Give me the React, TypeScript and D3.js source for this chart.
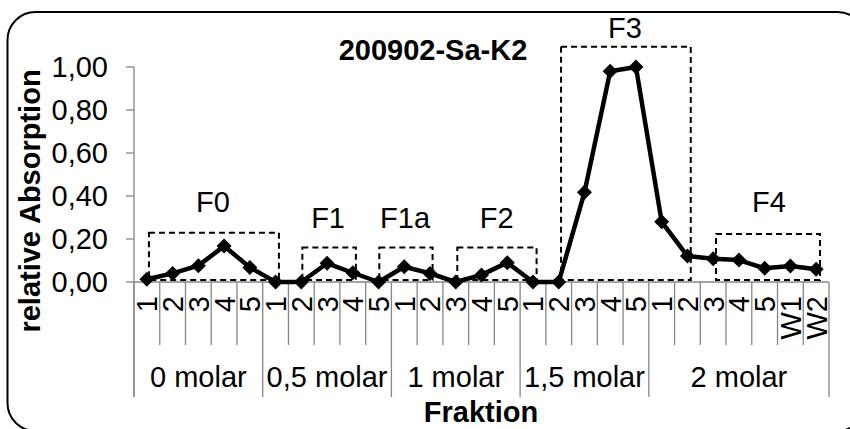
import React from "react";
import * as d3 from "d3";

const categories = ["1","2","3","4","5","1","2","3","4","5","1","2","3","4","5","1","2","3","4","5","1","2","3","4","5","W1","W2"];
const groups = ["0 molar", "0,5 molar", "1 molar", "1,5 molar", "2 molar"];
const groupSizes = [5, 5, 5, 5, 7];
const values = [
  0.013, 0.04, 0.076, 0.167, 0.068,
  0, 0, 0.087, 0.043, 0,
  0.071, 0.04, 0, 0.033, 0.09,
  0, 0, 0.417, 0.98, 1.0,
  0.28, 0.121, 0.108, 0.102, 0.064, 0.074, 0.059,
];
const yTicks = [0, 0.2, 0.4, 0.6, 0.8, 1.0];

// fraction annotation boxes (category units / value units)
const boxNames = ["F0", "F1", "F1a", "F2", "F3", "F4"];
const boxStart = [0.58, 6.54, 9.53, 12.56, 16.59, 22.61];
const boxEnd = [5.63, 8.62, 11.6, 15.64, 21.63, 26.65];
const boxTop = [0.229, 0.161, 0.161, 0.16, 1.094, 0.223];
const boxBottom = [0.009, 0.009, 0.009, 0.009, 0.009, 0.009];
const labelCenter = [3.07, 7.54, 10.53, 14.09, 19.07, 24.67];
const labelValue = [0.327, 0.253, 0.253, 0.253, 1.133, 0.327];

const title = "200902-Sa-K2";
const xTitle = "Fraktion";
const yTitle = "relative Absorption";

const W = 850;
const H = 429;
const FONT = "'Liberation Sans', Arial, Helvetica, sans-serif";
const AXIS = "#868686";

export default function App() {
  const x0 = 134, x1 = 829, yBase = 282, yTop = 67;
  const x = d3.scaleLinear().domain([0, categories.length]).range([x0, x1]);
  const y = d3.scaleLinear().domain([0, 1]).range([yBase, yTop]);
  const fmt = (v: number) => d3.format(".2f")(v).replace(".", ",");
  const line = d3.line<number>().x((_, i) => x(i + 0.5)).y((d) => y(d));

  const groupBounds: number[] = [0];
  groupSizes.forEach((s, i) => groupBounds.push(groupBounds[i] + s));

  const diamond = (cx: number, cy: number, r: number) =>
    `M${cx},${cy - r}L${cx + r},${cy}L${cx},${cy + r}L${cx - r},${cy}Z`;

  return (
    <svg width={W} height={H} style={{ position: "absolute", left: 0, top: 0, background: "#fff" }} fontFamily={FONT}>
      <rect x={7.5} y={12} width={858} height={419} rx={28} ry={28} fill="#fff" stroke="#000" strokeWidth={2} />

      {/* title */}
      <text x={433} y={60} textAnchor="middle" fontWeight="bold" fontSize={29}>{title}</text>

      {/* y axis */}
      <line x1={x0} x2={x0} y1={yTop} y2={397} stroke={AXIS} strokeWidth={1.3} />
      {yTicks.map((t) => (
        <g key={t}>
          <line x1={x0 - 8} x2={x0} y1={y(t)} y2={y(t)} stroke={AXIS} strokeWidth={1.3} />
          <text x={108} y={y(t)} dy="0.36em" textAnchor="end" fontSize={29}>{fmt(t)}</text>
        </g>
      ))}

      {/* x axis */}
      <line x1={x0} x2={x1} y1={yBase} y2={yBase} stroke={AXIS} strokeWidth={1.3} />
      {categories.map((c, i) =>
        i === 0 || groupBounds.includes(i) ? null : (
          <line key={"t" + i} x1={x(i)} x2={x(i)} y1={yBase} y2={345} stroke={AXIS} strokeWidth={1.3} />
        )
      )}
      {groupBounds.map((b, i) => (
        <line key={"g" + i} x1={x(b)} x2={x(b)} y1={yBase} y2={397} stroke={AXIS} strokeWidth={1.3} />
      ))}
      {categories.map((c, i) => (
        <text key={"c" + i} transform={`translate(${x(i + 0.5)},296) rotate(-90)`} dy="0.36em" textAnchor="end" fontSize={29}>{c}</text>
      ))}
      {groups.map((g, i) => (
        <text key={g} x={x((groupBounds[i] + groupBounds[i + 1]) / 2)} y={387} textAnchor="middle" fontSize={29}>{g}</text>
      ))}

      {/* axis titles */}
      <text x={481} y={422} textAnchor="middle" fontWeight="bold" fontSize={29}>{xTitle}</text>
      <text transform="translate(40,201) rotate(-90)" textAnchor="middle" fontWeight="bold" fontSize={29}>{yTitle}</text>

      {/* annotation boxes */}
      {boxNames.map((n, i) => (
        <g key={n}>
          <rect x={x(boxStart[i])} y={y(boxTop[i])} width={x(boxEnd[i]) - x(boxStart[i])} height={y(boxBottom[i]) - y(boxTop[i])}
            fill="none" stroke="#000" strokeWidth={2} strokeDasharray="6,4" />
          <text x={x(labelCenter[i])} y={y(labelValue[i])} textAnchor="middle" fontSize={29}>{n}</text>
        </g>
      ))}

      {/* data */}
      <path d={line(values) || ""} fill="none" stroke="#000" strokeWidth={4.5} strokeLinejoin="round" />
      {values.map((v, i) => (
        <path key={"m" + i} d={diamond(x(i + 0.5), y(v), 7.5)} fill="#000" />
      ))}
    </svg>
  );
}
